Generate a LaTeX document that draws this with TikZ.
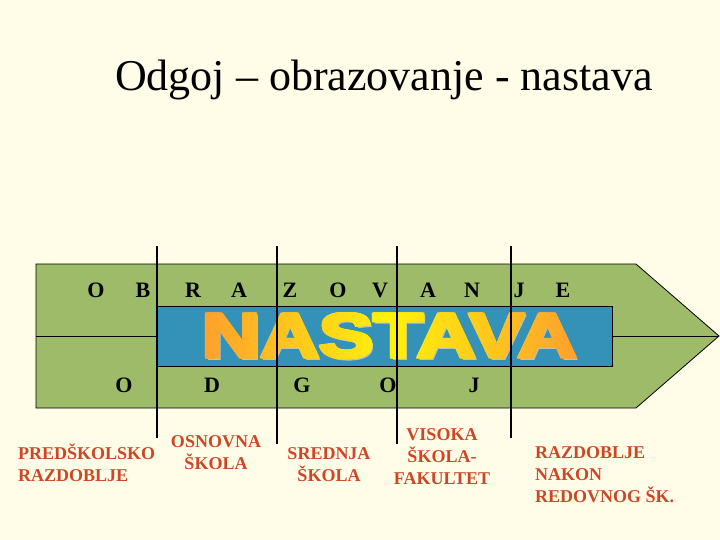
\documentclass[tikz,border=0pt]{standalone}
\usepackage{graphicx}
\usepackage{fontspec}
\setmainfont{Liberation Serif}
\newfontfamily\blocksans[FakeBold=2.5]{Liberation Sans}
\usetikzlibrary{fadings}

\definecolor{cream}{RGB}{255,253,232}
\definecolor{arrowgreen}{RGB}{158,187,105}
\definecolor{boxblue}{RGB}{52,146,184}
\definecolor{labelred}{RGB}{206,70,36}
\definecolor{nastavaorange}{RGB}{255,152,48}
\definecolor{nastavayellow}{RGB}{255,242,10}

\newcommand{\nastavaword}{\scalebox{1.29}[1]{\blocksans\bfseries\fontsize{63}{63}\selectfont NASTAVA}}

% thickened letter mask for the shaded word
\begin{tikzfadingfrompicture}[name=nastavafade]
  \foreach \dx in {-1.3,0,1.3}
    \foreach \dy in {-0.7,0,0.7}
      \node[text=transparent!0, inner sep=0pt] at (\dx pt,\dy pt) {\nastavaword};
\end{tikzfadingfrompicture}

\tikzset{
  letter/.style={font=\bfseries\fontsize{22}{22}\selectfont, inner sep=0pt, anchor=base},
  stagelabel/.style={font=\bfseries\fontsize{18}{22}\selectfont, text=labelred, inner sep=0pt},
  divider/.style={line width=2.8pt},
}

\begin{document}
\begin{tikzpicture}[x=1pt,y=-1pt]
  \useasboundingbox[fill=cream] (0,0) rectangle (720,540);

  % title
  \node[font=\fontsize{44}{44}\selectfont, inner sep=0pt, anchor=base] (title) at (384,91)
    {Odgoj -- obrazovanje - nastava};

  % arrow
  \draw[fill=arrowgreen, line width=0.8pt] (36,264) -- (636,264) -- (719,336) -- (636,408) -- (36,408) -- cycle;
  \draw[line width=0.8pt] (36,336) -- (157,336);
  \draw[line width=0.8pt] (612,336) -- (719,336);
  \draw[fill=boxblue, line width=0.8pt] (157,306) rectangle (612,366);

  % NASTAVA
  \node[text=gray!50, inner sep=0pt] (nastavashadow) at (391,337.5) {\nastavaword};
  \shade[path fading=nastavafade, fit fading=false, fading transform={shift={(389,335.5)}},
    left color=nastavaorange, right color=nastavaorange, middle color=nastavayellow]
    (185,306) rectangle (595,366);

  % obrazovanje
  \foreach \ch/\xx [count=\i] in {O/96,B/143,R/193,A/239,Z/290,O/338,V/380,A/428,N/472,J/519,E/563}
    \node[letter] (top\i) at (\xx,297) {\ch};
  % odgoj
  \foreach \ch/\xx [count=\i] in {O/124,D/212,G/302,O/388,J/474}
    \node[letter] (bottom\i) at (\xx,392) {\ch};

  % stage dividers
  \foreach \xx/\yy in {157/438,277/444,397/444,511/438}
    \draw[divider] (\xx,246) -- (\xx,\yy);

  % stages
  \node[stagelabel, align=left, anchor=base west] (predskolsko) at (18,481) {PREDŠKOLSKO\\RAZDOBLJE};
  \node[stagelabel, align=center, anchor=base] (osnovna) at (216,469) {OSNOVNA\\ŠKOLA};
  \node[stagelabel, align=center, anchor=base] (srednja) at (329,481) {SREDNJA\\ŠKOLA};
  \node[stagelabel, align=center, anchor=base] (visoka) at (442,484) {VISOKA\\ŠKOLA-\\FAKULTET};
  \node[stagelabel, align=left, anchor=base west] (nakon) at (535,502) {RAZDOBLJE\\NAKON\\REDOVNOG ŠK.};
\end{tikzpicture}
\end{document}
